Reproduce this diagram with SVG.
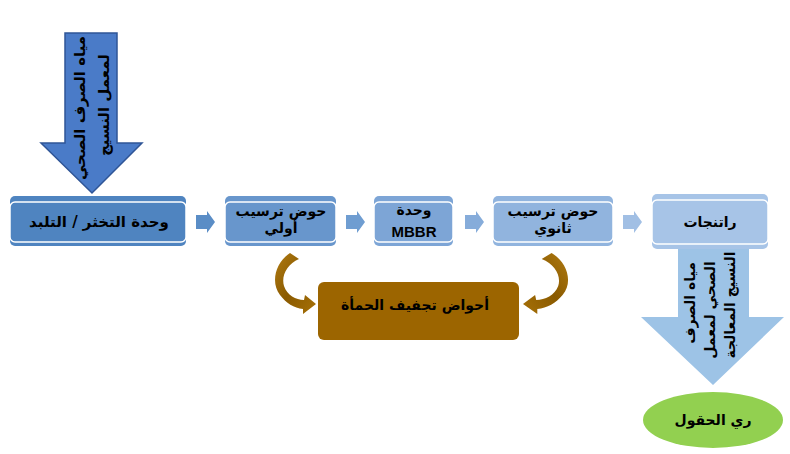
<svg xmlns="http://www.w3.org/2000/svg" width="790" height="454" viewBox="0 0 790 454">
<defs>
<linearGradient id="brownGrad" x1="0" y1="0" x2="1" y2="1">
<stop offset="0" stop-color="#b07b12"/>
<stop offset="0.5" stop-color="#8a5a00"/>
<stop offset="1" stop-color="#a77108"/>
</linearGradient>
<style>
.t{font-family:"DejaVu Sans",sans-serif;font-weight:bold;font-size:14px;fill:#000;text-anchor:middle}
.inner{stroke:#fff;stroke-width:1.5}
</style>
</defs>
<rect width="790" height="454" fill="#fff"/>

<g id="connectors">
<polygon points="196,215 207,215 207,211 215,222 207,233 207,229 196,229" fill="#5a8dc6"/>
<polygon points="346,215 357,215 357,211 365,222 357,233 357,229 346,229" fill="#6f9dd1"/>
<polygon points="465,215 476,215 476,211 484,222 476,233 476,229 465,229" fill="#86acda"/>
<polygon points="623,215 634,215 634,211 642,222 634,233 634,229 623,229" fill="#a1bfe4"/>
<path d="M 290,253 C 276,262 270,282 280,295 C 286,303 294,308 303,309 L 303,314 L 316,304 L 305,295 L 304,300 C 296,300 287,295 284,286 C 281,276 287,264 299,259 Z" fill="url(#brownGrad)"/>
<path transform="matrix(-1.1,0,0,1,870.6,0)" d="M 290,253 C 276,262 270,282 280,295 C 286,303 294,308 303,309 L 303,314 L 316,304 L 305,295 L 304,300 C 296,300 287,295 284,286 C 281,276 287,264 299,259 Z" fill="url(#brownGrad)"/>
</g>

<g id="inflow">
<polygon points="65,33 117,33 117,143 142,143 92,193 41,143 65,143" fill="#4a7bc8" stroke="#2f5597" stroke-width="1.5"/>
<g transform="translate(80,108) rotate(-90)"><text class="t" style="font-size:15px" y="5">مياه الصرف الصحي</text></g>
<g transform="translate(104,105) rotate(-90)"><text class="t" style="font-size:15px" y="5">لمعمل النسيج</text></g>
</g>

<g id="outflow">
<polygon points="678,246 749,246 749,317 784,317 713,385 641,317 678,317" fill="#9dc3e6"/>
<g transform="translate(690,303) rotate(-90)"><text class="t" y="5">مياه الصرف</text></g>
<g transform="translate(710,310) rotate(-90)"><text class="t" y="5">الصحي لمعمل</text></g>
<g transform="translate(730,305) rotate(-90)"><text class="t" y="5">النسيج المعالجة</text></g>
</g>

<g id="box1">
<rect x="10" y="196" width="176" height="50" rx="5" fill="#4f84c0"/>
<rect x="10" y="202" width="176" height="40" rx="5" fill="#4f84c0" class="inner"/>
<text class="t" x="99" y="227" style="font-size:15px">وحدة التخثر / التلبد</text>
</g>

<g id="box2">
<rect x="225" y="196" width="111" height="50" rx="5" fill="#6896cc"/>
<rect x="225" y="202" width="111" height="40" rx="5" fill="#6896cc" class="inner"/>
<text class="t" x="281" y="216">حوض ترسيب</text>
<text class="t" x="281" y="233">أولي</text>
</g>

<g id="box3">
<rect x="374" y="196" width="79" height="50" rx="5" fill="#7da5d6"/>
<rect x="374" y="202" width="79" height="40" rx="5" fill="#7da5d6" class="inner"/>
<text class="t" x="414" y="215">وحدة</text>
<text class="t" x="414" y="237" style="font-family:'Liberation Sans',sans-serif;font-size:15px">MBBR</text>
</g>

<g id="box4">
<rect x="493" y="196" width="120" height="50" rx="5" fill="#91b4de"/>
<rect x="493" y="202" width="120" height="40" rx="5" fill="#91b4de" class="inner"/>
<text class="t" x="553" y="216">حوض ترسيب</text>
<text class="t" x="553" y="233">ثانوي</text>
</g>

<g id="box5">
<rect x="652" y="194" width="116" height="55" rx="5" fill="#a7c4e7"/>
<rect x="652" y="200" width="116" height="44" rx="5" fill="#a7c4e7" class="inner"/>
<text class="t" x="710" y="227">راتنجات</text>
</g>

<g id="sludge">
<rect x="318" y="282" width="201" height="58" rx="6" fill="#9c6500"/>
<text class="t" x="415" y="310">أحواض تجفيف الحمأة</text>
</g>

<g id="irrigation">
<ellipse cx="713" cy="420" rx="70" ry="28" fill="#92d050"/>
<text class="t" x="713" y="425">ري الحقول</text>
</g>
</svg>
